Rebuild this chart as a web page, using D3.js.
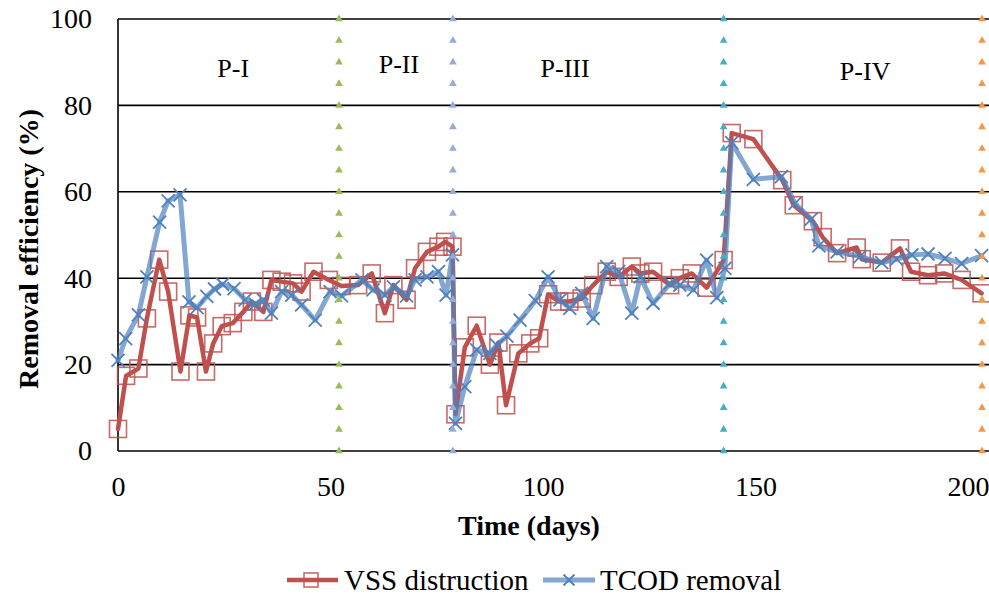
<!DOCTYPE html>
<html>
<head>
<meta charset="utf-8">
<script src="https://cdn.jsdelivr.net/npm/d3@7/dist/d3.min.js"></script>
<style>
  html, body { margin: 0; padding: 0; background: #fff; }
  svg { display: block; }
</style>
</head>
<body>
<div id="chart"></div>
<script>
// ---------- DATA ----------
const vssDays = [0, 1.9, 4.8, 6.8, 9.7, 11.8, 14.7, 16.8, 18.6, 20.7, 22.4, 24.4, 27.0, 29.5, 31.5, 34.2, 36.1, 38.5, 41.2, 43.2, 46.0,
  49.6, 52.6, 56.5, 59.7, 62.8, 64.8, 67.9, 69.9, 72.7, 75.4, 77.0, 78.7, 79.4, 81.6, 84.4, 87.5, 89.5, 91.3, 94.2, 97.0, 99.1,
  101.2, 103.8, 106.2, 109.1, 111.8, 115.0, 117.8, 120.9, 122.9, 125.9, 129.9, 132.2, 135.0, 138.5, 142.5, 144.4, 149.5,
  156.3, 159.0, 163.5, 165.8, 169.2, 173.8, 175.0, 179.7, 184.0, 186.6, 190.6, 194.4, 198.5, 203.2];
const vssValues = [5.1, 17.4, 19.1, 30.7, 44.3, 36.9, 18.4, 31.4, 30.9, 18.4, 24.9, 28.9, 29.6, 32.2, 34.6, 32.2, 39.6, 39.2, 38.8, 36.9, 41.5,
  39.6, 38.2, 38.4, 41.1, 31.9, 38.4, 35.0, 42.3, 46.1, 47.3, 48.4, 47.3, 8.5, 24.0, 29.0, 20.0, 25.1, 10.6, 22.6, 24.9, 26.1,
  36.3, 34.6, 34.6, 35.3, 38.4, 41.5, 40.3, 42.7, 41.1, 41.5, 38.4, 40.0, 41.1, 37.8, 44.2, 73.6, 72.2,
  62.7, 56.9, 53.2, 49.5, 45.8, 47.1, 44.4, 43.6, 46.9, 41.5, 40.7, 41.1, 39.6, 36.5];

const tcodDays = [0, 1.8, 4.8, 6.8, 9.8, 11.8, 14.6, 16.7, 18.6, 20.9, 22.7, 24.6, 27.3, 29.9, 32.3, 34.2, 36.1, 38.5, 40.9, 43.2, 46.4,
  49.9, 52.6, 57.4, 60.0, 62.8, 64.8, 67.9, 69.9, 72.7, 75.4, 77.2, 78.7, 79.4, 81.6, 84.4, 87.5, 89.1, 91.5, 94.6, 98.2,
  101.2, 104.0, 106.3, 109.1, 111.8, 115.0, 117.8, 120.9, 122.9, 125.9, 129.9, 132.2, 135.4, 138.5, 140.9, 142.8, 144.4,
  149.5, 156.1, 159.3, 163.1, 164.9, 169.2, 174.6, 179.7, 183.2, 186.8, 190.6, 194.6, 198.5, 203.2];
const tcodValues = [21.0, 26.0, 31.5, 40.3, 53.0, 57.9, 59.3, 34.5, 33.2, 35.8, 37.5, 38.6, 37.6, 35.0, 34.0, 35.0, 31.9, 36.9, 36.1, 33.8, 30.3,
  36.9, 35.9, 39.6, 37.3, 36.1, 38.0, 35.9, 39.6, 40.3, 41.5, 36.1, 45.4, 6.4, 14.9, 23.4, 22.6, 24.5, 26.6, 30.3, 34.8,
  40.3, 35.0, 33.0, 36.5, 30.7, 42.7, 41.5, 31.9, 40.3, 34.2, 38.8, 38.4, 37.3, 44.2, 35.5, 42.3, 71.4,
  62.9, 63.5, 57.3, 53.7, 47.5, 46.1, 45.0, 43.6, 44.4, 45.4, 45.6, 44.6, 43.4, 45.2];

const phaseDays = [52.0, 78.8, 142.5, 203.3];
const phaseColors = ["#9BBB59", "#95ABD8", "#4BACC6", "#F79646"];
const triangleLevels = [0, 5, 10, 15, 20, 25, 30, 35, 40, 45, 50, 55, 60, 65, 70, 75, 80, 85, 90, 95, 100];
const phaseLabels = ["P-I", "P-II", "P-III", "P-IV"];
const phaseLabelDays = [27.1, 66.1, 105.2, 175.8];
const phaseLabelValues = [88.5, 89.5, 88.5, 87.8];

const xTicks = [0, 50, 100, 150, 200];
const yTicks = [0, 20, 40, 60, 80, 100];
const gridValues = [20, 40, 60, 80, 100];

const seriesNames = ["VSS distruction", "TCOD removal"];

// ---------- LAYOUT ----------
const W = 989, H = 596;
const FONT = "'Liberation Serif', 'Times New Roman', serif";
const svg = d3.select("#chart").append("svg").attr("width", W).attr("height", H)
  .style("font-family", FONT);

const x = d3.scaleLinear().domain([0, 210]).range([118, 118 + 210 * 4.25]);
const y = d3.scaleLinear().domain([0, 100]).range([451, 19]);
const x0 = x(0), xEnd = W;

// gridlines
svg.append("g").selectAll("line").data(gridValues).join("line")
  .attr("x1", x0).attr("x2", xEnd)
  .attr("y1", d => y(d)).attr("y2", d => y(d))
  .attr("stroke", "#000").attr("stroke-width", 1.6);

// axis lines
svg.append("line").attr("x1", x0).attr("x2", x0).attr("y1", y(0)).attr("y2", y(100))
  .attr("stroke", "#000").attr("stroke-width", 1.6);
svg.append("line").attr("x1", x0).attr("x2", xEnd).attr("y1", y(0)).attr("y2", y(0))
  .attr("stroke", "#000").attr("stroke-width", 1.6);

// axis labels via d3 axes
const yAxis = svg.append("g").attr("transform", `translate(${x0},0)`)
  .call(d3.axisLeft(y).tickValues(yTicks).tickSize(0).tickPadding(26));
yAxis.select(".domain").remove();
yAxis.attr("font-family", null).attr("font-size", null);
yAxis.selectAll("text").style("font-size", "28px").style("font-family", FONT).attr("fill", "#000");

const xAxis = svg.append("g").attr("transform", `translate(0,${y(0)})`)
  .call(d3.axisBottom(x).tickValues(xTicks).tickSize(0).tickPadding(25));
xAxis.select(".domain").remove();
xAxis.attr("font-family", null).attr("font-size", null);
xAxis.selectAll("text").style("font-size", "28px").style("font-family", FONT).attr("fill", "#000");

// axis titles
svg.append("text").attr("x", 529).attr("y", 535).attr("text-anchor", "middle")
  .style("font-family", FONT).style("font-size", "28px").style("font-weight", "bold").text("Time (days)");
svg.append("text").attr("transform", `translate(38,${y(50) + 14}) rotate(-90)`)
  .attr("text-anchor", "middle")
  .style("font-family", FONT).style("font-size", "28px").style("font-weight", "bold").text("Removal efficiency (%)");

// series
const vss = vssDays.map((d, i) => ({ d, v: vssValues[i] }));
const tcod = tcodDays.map((d, i) => ({ d, v: tcodValues[i] }));
const line = d3.line().x(p => x(p.d)).y(p => y(p.v));

const RED = "#C0504D", BLUE = "#4F81BD";

svg.append("path").datum(vss).attr("d", line)
  .attr("fill", "none").attr("stroke", RED).attr("stroke-width", 4.5)
  .attr("stroke-linejoin", "round").attr("stroke-linecap", "round");
svg.append("g").selectAll("rect").data(vss).join("rect")
  .attr("x", p => x(p.d) - 8.5).attr("y", p => y(p.v) - 8.5)
  .attr("width", 17).attr("height", 17)
  .attr("fill", "none").attr("stroke", RED).attr("stroke-width", 1.6).attr("stroke-opacity", 0.85);

svg.append("path").datum(tcod).attr("d", line)
  .attr("fill", "none").attr("stroke", BLUE).attr("stroke-opacity", 0.7).attr("stroke-width", 5)
  .attr("stroke-linejoin", "round").attr("stroke-linecap", "round");
const xm = 6.5;
svg.append("g").selectAll("path").data(tcod).join("path")
  .attr("d", p => `M${x(p.d) - xm},${y(p.v) - xm}L${x(p.d) + xm},${y(p.v) + xm}M${x(p.d) - xm},${y(p.v) + xm}L${x(p.d) + xm},${y(p.v) - xm}`)
  .attr("stroke", BLUE).attr("stroke-width", 1.8).attr("fill", "none");

// phase divider triangles
const tri = d3.symbol().type(d3.symbolTriangle).size(26);
phaseDays.forEach((pd, i) => {
  svg.append("g").selectAll("path").data(triangleLevels).join("path")
    .attr("d", tri)
    .attr("transform", v => `translate(${x(pd)},${y(v)})`)
    .attr("fill", phaseColors[i]);
});

// phase labels
svg.append("g").selectAll("text").data(phaseLabels).join("text")
  .attr("x", (t, i) => x(phaseLabelDays[i]))
  .attr("y", (t, i) => y(phaseLabelValues[i]))
  .attr("text-anchor", "middle").attr("dominant-baseline", "central")
  .style("font-family", FONT).style("font-size", "26px").text(t => t);

// legend
const ly = 580;
const lg = svg.append("g");
lg.append("line").attr("x1", 287).attr("x2", 338).attr("y1", ly).attr("y2", ly)
  .attr("stroke", RED).attr("stroke-width", 4.5);
lg.append("rect").attr("x", 311 - 7).attr("y", ly - 7).attr("width", 14).attr("height", 14)
  .attr("fill", "none").attr("stroke", RED).attr("stroke-width", 1.6).attr("stroke-opacity", 0.85);
lg.append("text").attr("x", 344).attr("y", ly).attr("dominant-baseline", "central")
  .style("font-family", FONT).style("font-size", "29px").text(seriesNames[0]);
lg.append("line").attr("x1", 543).attr("x2", 595).attr("y1", ly).attr("y2", ly)
  .attr("stroke", BLUE).attr("stroke-opacity", 0.7).attr("stroke-width", 5);
const lx = 569, lm = 5.5;
lg.append("path").attr("d", `M${lx - lm},${ly - lm}L${lx + lm},${ly + lm}M${lx - lm},${ly + lm}L${lx + lm},${ly - lm}`)
  .attr("stroke", BLUE).attr("stroke-width", 1.8);
lg.append("text").attr("x", 600).attr("y", ly).attr("dominant-baseline", "central")
  .style("font-family", FONT).style("font-size", "29px").text(seriesNames[1]);
</script>
</body>
</html>
